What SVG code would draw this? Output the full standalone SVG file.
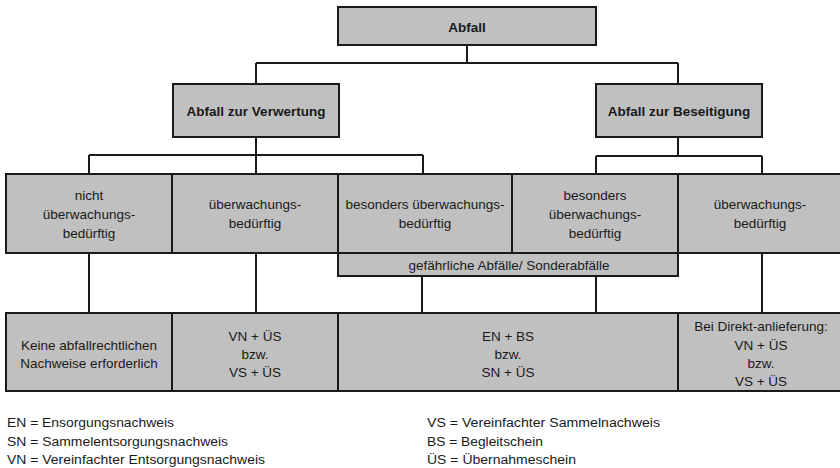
<svg xmlns="http://www.w3.org/2000/svg" width="840" height="468" viewBox="0 0 840 468">
<style>
.box{fill:#c0c0c0;stroke:#1a1a1a;stroke-width:2}
.ln{stroke:#1a1a1a;stroke-width:2;fill:none}
.t{font-family:"Liberation Sans",Arial,sans-serif;font-size:13.5px;fill:#1a1a1a;text-anchor:middle}
.b{font-weight:bold}
.lg{font-family:"Liberation Sans",Arial,sans-serif;font-size:12.5px;fill:#1a1a1a}
</style>
<rect width="840" height="468" fill="#ffffff"/>
<g id="connectors">
<path class="ln" d="M467,45V63M256,63H678M256,63V84M678,63V84"/>
<path class="ln" d="M256,137V155M89,155H423M89,155V174M256,155V174M423,155V174"/>
<path class="ln" d="M678,137V156M596,156H762M596,156V174M762,156V174"/>
<path class="ln" d="M89,253V313M256,253V313M422,276V313M596,276V313M762,253V313"/>
</g>
<g id="abfall">
<rect class="box" x="338" y="7" width="258" height="38"/>
<text class="t b" x="467" y="32">Abfall</text>
</g>
<g id="verwertung">
<rect class="box" x="173" y="84" width="166" height="53"/>
<text class="t b" x="256" y="116">Abfall zur Verwertung</text>
</g>
<g id="beseitigung">
<rect class="box" x="596" y="84" width="166" height="53"/>
<text class="t b" x="679" y="116">Abfall zur Beseitigung</text>
</g>
<g id="r1c1">
<rect class="box" x="6" y="174" width="166" height="79"/>
<text class="t" x="89" y="200">nicht</text>
<text class="t" x="89" y="219">überwachungs-</text>
<text class="t" x="89" y="238">bedürftig</text>
</g>
<g id="r1c2">
<rect class="box" x="172" y="174" width="166" height="79"/>
<text class="t" x="255" y="209">überwachungs-</text>
<text class="t" x="255" y="228">bedürftig</text>
</g>
<g id="r1c3">
<rect class="box" x="338" y="174" width="174" height="79"/>
<text class="t" x="425" y="209">besonders überwachungs-</text>
<text class="t" x="425" y="228">bedürftig</text>
</g>
<g id="r1c4">
<rect class="box" x="512" y="174" width="166" height="79"/>
<text class="t" x="595" y="200">besonders</text>
<text class="t" x="595" y="219">überwachungs-</text>
<text class="t" x="595" y="238">bedürftig</text>
</g>
<g id="r1c5">
<rect class="box" x="678" y="174" width="164" height="79"/>
<text class="t" x="760" y="209">überwachungs-</text>
<text class="t" x="760" y="228">bedürftig</text>
</g>
<g id="gefaehrlich">
<rect class="box" x="338" y="253" width="340" height="23"/>
<text class="t" x="509" y="270">gefährliche Abfälle/ Sonderabfälle</text>
</g>
<g id="r2c1">
<rect class="box" x="6" y="313" width="166" height="78"/>
<text class="t" x="89" y="349.5">Keine abfallrechtlichen</text>
<text class="t" x="89" y="368">Nachweise erforderlich</text>
</g>
<g id="r2c2">
<rect class="box" x="172" y="313" width="166" height="78"/>
<text class="t" x="255" y="340.5">VN + ÜS</text>
<text class="t" x="255" y="359">bzw.</text>
<text class="t" x="255" y="377">VS + ÜS</text>
</g>
<g id="r2c3">
<rect class="box" x="338" y="313" width="340" height="78"/>
<text class="t" x="508" y="340.5">EN + BS</text>
<text class="t" x="508" y="359">bzw.</text>
<text class="t" x="508" y="377">SN + ÜS</text>
</g>
<g id="r2c4">
<rect class="box" x="678" y="313" width="164" height="78"/>
<text class="t" x="761" y="330.5">Bei Direkt-anlieferung:</text>
<text class="t" x="761" y="349.5">VN + ÜS</text>
<text class="t" x="761" y="368">bzw.</text>
<text class="t" x="761" y="386">VS + ÜS</text>
</g>
<g id="legend">
<text class="lg" x="7" y="427" textLength="167" lengthAdjust="spacingAndGlyphs">EN = Ensorgungsnachweis</text>
<text class="lg" x="7" y="446" textLength="221" lengthAdjust="spacingAndGlyphs">SN = Sammelentsorgungsnachweis</text>
<text class="lg" x="7" y="464" textLength="258" lengthAdjust="spacingAndGlyphs">VN = Vereinfachter Entsorgungsnachweis</text>
<text class="lg" x="427" y="427" textLength="233" lengthAdjust="spacingAndGlyphs">VS = Vereinfachter Sammelnachweis</text>
<text class="lg" x="427" y="446" textLength="116" lengthAdjust="spacingAndGlyphs">BS = Begleitschein</text>
<text class="lg" x="427" y="464" textLength="149" lengthAdjust="spacingAndGlyphs">ÜS = Übernahmeschein</text>
</g>
</svg>
